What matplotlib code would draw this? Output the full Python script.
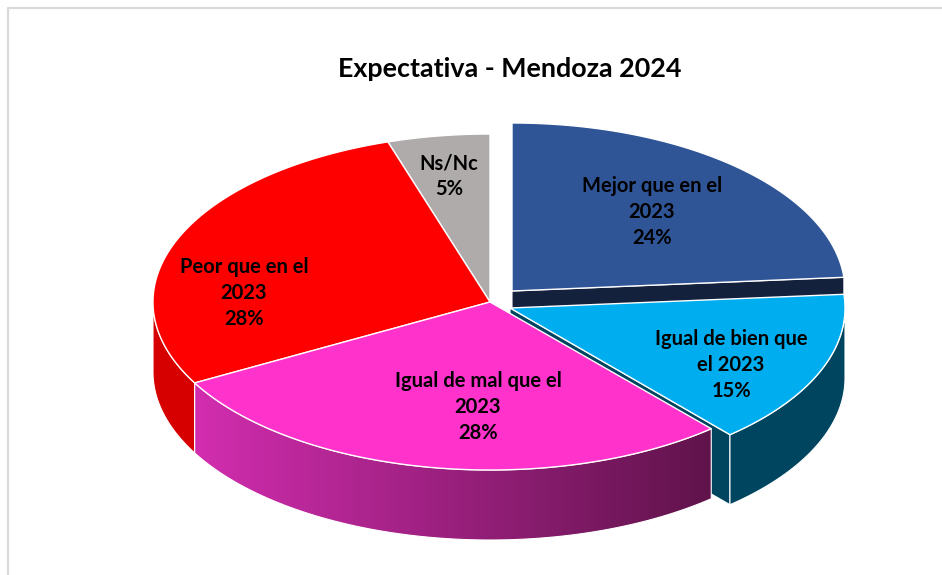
import numpy as np
from matplotlib import pyplot as plt
from matplotlib.patches import PathPatch
from matplotlib.path import Path

plt.rcParams['font.family'] = ['Lato', 'DejaVu Sans']

# shares, clockwise from 12 o'clock
categories = ['Mejor que en el\n2023', 'Igual de bien que\nel 2023', 'Igual de mal que el\n2023',
              'Peor que en el\n2023', 'Ns/Nc']
shares = [23.7, 14.9, 28.4, 28.1, 4.9]
title = 'Expectativa - Mendoza 2024'

top_colors = ['#2F5597', '#00AEEF', '#FF33CC', '#FF0000', '#AFABAB']
side_colors = ['#14213D', '#00455F', None, '#D60000', '#7F7C7C']

# pie layout, in pixels of the figure
centers = [(512, 291), (510, 308), (490, 302), (490, 302), (490, 302)]
radii_x = [333, 335, 337, 337, 337]
RY = 168
DEPTH = 70
label_pos = [(652, 212), (731, 365), (478, 407), (244, 293), (449, 176)]

edges = np.cumsum([0] + shares) / sum(shares) * 2 * np.pi


def rim(center, rx, t0, t1, drop=0):
    t = np.linspace(t0, t1, 200)
    return np.column_stack([center[0] + rx * np.sin(t), center[1] - RY * np.cos(t) + drop])


def drawPoly(ax, points, color, zorder, lw=1.0):
    patch = ax.fill(points[:, 0], points[:, 1], facecolor=color or 'none', edgecolor='white',
                    linewidth=lw, joinstyle='round', zorder=zorder)[0]
    return patch


def outerSide(center, rx, t0, t1):
    # only the front half of the rim shows its side
    t0, t1 = max(t0, np.pi / 2), min(t1, 3 * np.pi / 2)
    return np.vstack([rim(center, rx, t0, t1), rim(center, rx, t0, t1, DEPTH)[::-1]])


def cutFace(center, rx, t):
    edge = rim(center, rx, t, t)[0]
    c = np.array(center, dtype=float)
    return np.array([c, edge, edge + [0, DEPTH], c + [0, DEPTH]])


fig = plt.figure(figsize=(9.42, 5.75), dpi=100)
ax = fig.add_axes([0, 0, 1, 1])
ax.set_xlim(0, 942)
ax.set_ylim(575, 0)
ax.axis('off')

# chart frame, only left and top survive in the crop
ax.plot([7.5, 7.5, 942], [575, 7.5, 7.5], color='#D9D9D9', lw=1.6, zorder=1)

# back to front: Mejor, Ns/Nc, Peor, Igual de bien, Igual de mal
for i in [0, 4, 3, 1, 2]:
    center = centers[i]
    rx = radii_x[i]
    t0, t1 = edges[i], edges[i + 1]
    z = 2 + [0, 3, 4, 2, 1][i] * 2
    if i in (0, 1):
        drawPoly(ax, cutFace(center, rx, t1), side_colors[i], z, lw=0.8)
    if t1 > np.pi / 2 and t0 < 3 * np.pi / 2:
        side = outerSide(center, rx, t0, t1)
        if i == 2:
            # pink side fades from left to right
            grad = np.linspace(0, 1, 256)[None, :, None]
            rgb = (1 - grad) * np.array([[[210, 45, 175]]]) / 255 + grad * np.array([[[96, 19, 75]]]) / 255
            x0, x1 = side[:, 0].min(), side[:, 0].max()
            y0, y1 = side[:, 1].min(), side[:, 1].max()
            im = ax.imshow(rgb, extent=[x0, x1, y1, y0], aspect='auto', zorder=z, interpolation='bilinear')
            im.set_clip_path(PathPatch(Path(side), transform=ax.transData))
            ax.fill(side[:, 0], side[:, 1], facecolor='none', edgecolor='white', lw=0.8, zorder=z)
        else:
            drawPoly(ax, side, side_colors[i], z, lw=0.8)
    top = np.vstack([[center], rim(center, rx, t0, t1)])
    drawPoly(ax, top, top_colors[i], z + 1)
    ax.text(label_pos[i][0], label_pos[i][1], categories[i] + '\n%d%%' % round(shares[i]),
            ha='center', va='center', fontsize=14.5, fontweight='bold', color='black',
            linespacing=1.36, zorder=20)

ax.set_xlim(0, 942)
ax.set_ylim(575, 0)
ax.text(509.5, 69, title, ha='center', va='center', fontsize=19.4, fontweight='bold', color='black', zorder=20)

fig.savefig('out.png', dpi=100)
